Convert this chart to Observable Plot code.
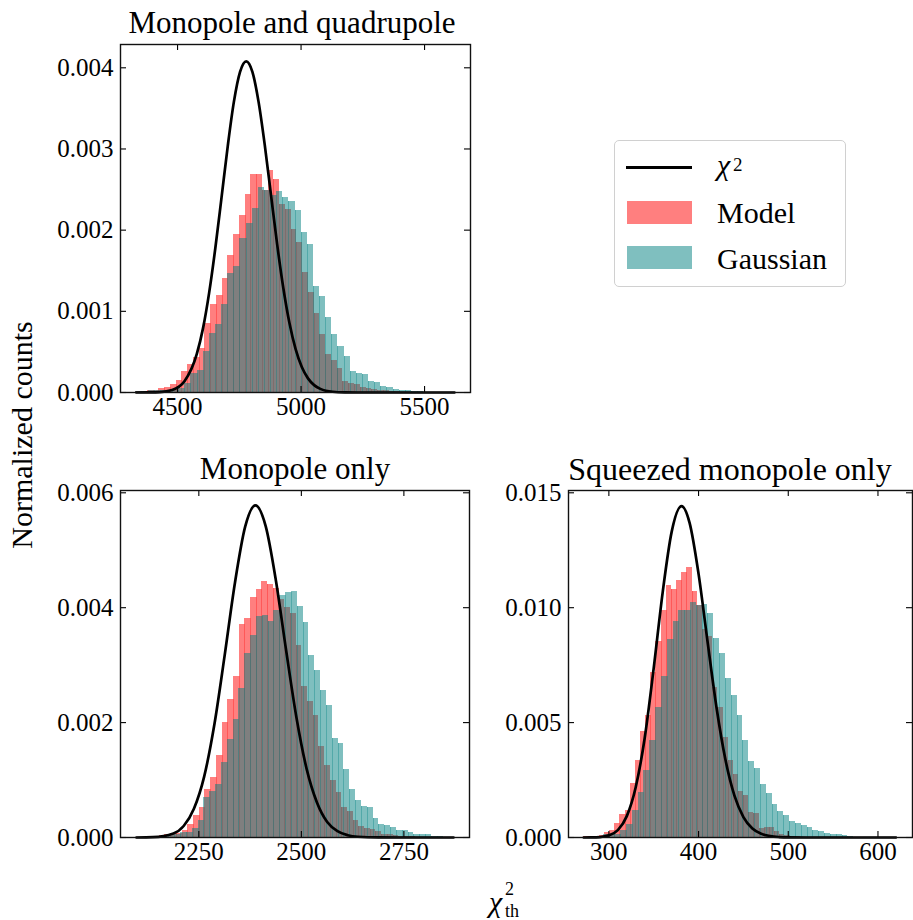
<!DOCTYPE html>
<html>
<head>
<meta charset="utf-8">
<script src="https://cdn.jsdelivr.net/npm/d3@7"></script>
<script src="https://cdn.jsdelivr.net/npm/@observablehq/plot@0.6"></script>
<style>
  body { margin: 0; background: #fff; }
  #fig { position: relative; width: 913px; height: 920px; overflow: hidden;
         font-family: "Liberation Serif", "Times New Roman", serif; color: #000; background: #fff; }
  .abs { position: absolute; white-space: nowrap; line-height: 1; }
  .pan { position: absolute; }
</style>
</head>
<body>
<div id="fig"></div>
<script>
// ---------- data (densities in units of 1e-3) ----------
const UNIT = 1e-3;

// Panel 1: Monopole and quadrupole
const mqModelStart = 4331, mqModelWidth = 23.3;
const mqModel = [0.01, 0.01, 0.02, 0.02, 0.045, 0.057, 0.094, 0.148, 0.259, 0.345,
  0.435, 0.54, 0.85, 1.09, 1.20, 1.41, 1.69, 1.95, 2.18, 2.44,
  2.68, 2.68, 2.49, 2.74, 2.63, 2.32, 2.26, 2.01, 1.85, 1.48,
  1.23, 0.97, 0.72, 0.47, 0.39, 0.29, 0.14, 0.11, 0.10, 0.06,
  0.05, 0.04, 0.02, 0.02, 0.01, 0.01];
const mqGaussStart = 4331, mqGaussWidth = 24.8;
const mqGauss = [0.01, 0.01, 0.02, 0.02, 0.02, 0.03, 0.03, 0.045, 0.115, 0.23,
  0.27, 0.50, 0.73, 0.84, 1.08, 1.47, 1.55, 1.90, 2.08, 2.27,
  2.53, 2.49, 2.43, 2.48, 2.40, 2.35, 2.24, 1.97, 1.82, 1.30,
  1.18, 0.92, 0.72, 0.57, 0.44, 0.26, 0.24, 0.22, 0.13, 0.12,
  0.08, 0.06, 0.04, 0.03, 0.03, 0.01, 0.01, 0.005, 0.003, 0.002, 0.002, 0.002];
const mqChi2X = [4333, 4378, 4428, 4478, 4528, 4578, 4603, 4628, 4653, 4678, 4703, 4728, 4753,
  4778, 4803, 4828, 4853, 4878, 4903, 4928, 4953, 4978, 5003, 5028, 5053, 5078, 5128, 5178, 5228, 5300, 5450, 5621];
const mqChi2Y = [0.0001, 0.0015, 0.005, 0.030, 0.138, 0.475, 0.79, 1.23, 1.78, 2.40, 3.03, 3.58, 3.95,
  4.08, 3.95, 3.58, 3.05, 2.44, 1.83, 1.29, 0.855, 0.533, 0.313, 0.174, 0.091, 0.045, 0.009, 0.0015, 0.0002, 0, 0, 0];

// Panel 2: Monopole only
const moModelStart = 2098, moModelWidth = 13.9;
const moModel = [0.005, 0.005, 0.01, 0.01, 0.03, 0.05, 0.07, 0.07, 0.12, 0.23,
  0.38, 0.52, 0.84, 1.05, 1.42, 2.00, 2.40, 2.80, 3.70, 3.82,
  4.17, 4.31, 4.46, 4.40, 4.33, 4.15, 4.01, 3.90, 3.34, 2.62,
  2.37, 2.12, 1.58, 1.25, 0.99, 0.78, 0.53, 0.45, 0.29, 0.20,
  0.15, 0.14, 0.10, 0.06, 0.06, 0.03, 0.02, 0.01, 0.01, 0.005];
const moGaussStart = 2106, moGaussWidth = 14.22;
const moGauss = [0.005, 0.005, 0.01, 0.01, 0.02, 0.03, 0.06, 0.09, 0.09, 0.15,
  0.29, 0.69, 0.80, 0.92, 1.30, 1.70, 2.05, 2.60, 3.20, 3.51,
  3.85, 3.86, 3.76, 3.95, 4.22, 4.26, 4.29, 4.02, 3.75, 3.16,
  2.90, 2.56, 2.29, 1.72, 1.64, 1.18, 0.84, 0.64, 0.54, 0.53,
  0.33, 0.22, 0.21, 0.17, 0.12, 0.12, 0.09, 0.06, 0.05, 0.05, 0.02, 0.02];
const moChi2X = [2098, 2138, 2188, 2213, 2238, 2263, 2288, 2313, 2338, 2363, 2388, 2413, 2438, 2463,
  2488, 2513, 2538, 2563, 2588, 2613, 2638, 2688, 2738, 2871];
const moChi2Y = [0.0003, 0.005, 0.070, 0.20, 0.50, 1.06, 1.97, 3.17, 4.43, 5.41, 5.78, 5.42, 4.47, 3.25,
  2.09, 1.19, 0.61, 0.27, 0.11, 0.040, 0.013, 0.001, 0, 0];

// Panel 3: Squeezed monopole only
const sqModelStart = 272, sqModelWidth = 5.75;
const sqModel = [0.03, 0.03, 0.06, 0.10, 0.22, 0.32, 0.61, 1.02, 1.19, 2.35,
  3.34, 4.62, 5.30, 7.19, 8.54, 9.88, 10.97, 10.78, 11.18, 11.51,
  11.76, 10.72, 10.09, 9.07, 8.74, 6.51, 5.66, 4.36, 3.37, 2.73,
  2.00, 1.82, 1.09, 1.06, 0.41, 0.42, 0.44, 0.26, 0.12, 0.07,
  0.05, 0.03, 0.02, 0.01];
const sqGaussStart = 274, sqGaussWidth = 6.5;
const sqGauss = [0.02, 0.03, 0.06, 0.12, 0.12, 0.15, 0.32, 0.58, 1.16, 1.96,
  2.90, 4.21, 5.66, 7.00, 8.61, 9.40, 9.88, 9.87, 10.24, 10.09,
  10.12, 9.76, 8.64, 7.99, 6.93, 6.20, 5.33, 4.21, 3.30, 3.01,
  2.29, 1.93, 1.45, 1.12, 0.94, 0.68, 0.61, 0.51, 0.44, 0.32,
  0.26, 0.17, 0.15, 0.12, 0.09, 0.05];
const sqChi2X = [272, 280, 290, 300, 310, 320, 330, 340, 350, 360, 370, 381, 390, 400, 410, 420,
  430, 440, 450, 460, 470, 480, 490, 500, 520, 620];
const sqChi2Y = [0.001, 0.004, 0.02, 0.094, 0.32, 0.93, 2.20, 4.34, 7.37, 10.67, 13.30, 14.42, 13.69, 11.47, 8.53, 5.66,
  3.38, 1.82, 0.89, 0.39, 0.16, 0.06, 0.02, 0.005, 0.0005, 0];

// ticks, labels
const mqXTicks = [4500, 5000, 5500];
const mqYTicks = [0, 0.001, 0.002, 0.003, 0.004];
const moXTicks = [2250, 2500, 2750];
const moYTicks = [0, 0.002, 0.004, 0.006];
const sqXTicks = [300, 400, 500, 600];
const sqYTicks = [0, 0.005, 0.010, 0.015];
const panelTitles = ["Monopole and quadrupole", "Monopole only", "Squeezed monopole only"];
const seriesNames = ["Model", "Gaussian"];
const yAxisLabel = "Normalized counts";

const SERIF = '"Liberation Serif", "Times New Roman", serif';

// ---------- helpers ----------
const bins = (start, width, vals) =>
  vals.map((v, i) => ({x1: start + i * width, x2: start + (i + 1) * width, y1: 0, y2: v * UNIT}));
const edges = (start, width, vals) => {
  const out = [];
  for (let i = 1; i < vals.length; i++)
    out.push({x: start + i * width, y1: 0, y2: Math.min(vals[i - 1], vals[i]) * UNIT});
  return out;
};
const curvePts = (xs, ys) => xs.map((x, i) => ({x, y: ys[i] * UNIT}));

function panel(cfg) {
  const {w, h, m, xDomain, yDomain, xTicks, yTicks, yFmt, model, gauss, chi} = cfg;
  const pw = w - m.left - m.right, ph = h - m.top - m.bottom;
  const tl = 6;
  const ty = tl / ph * (yDomain[1] - yDomain[0]);
  const tx = tl / pw * (xDomain[1] - xDomain[0]);
  return Plot.plot({
    width: w, height: h,
    marginLeft: m.left, marginRight: m.right, marginTop: m.top, marginBottom: m.bottom,
    x: {type: "linear", domain: xDomain},
    y: {type: "linear", domain: yDomain},
    style: {fontFamily: SERIF, fontSize: "25px", color: "#000", background: "transparent", overflow: "visible"},
    marks: [
      Plot.rect(bins(...model), {x1: "x1", x2: "x2", y1: "y1", y2: "y2", fill: "red", fillOpacity: 0.5,
        inset: 0, shapeRendering: "crispEdges"}),
      Plot.ruleX(edges(...model), {x: "x", y1: "y1", y2: "y2", stroke: "red", strokeOpacity: 0.3,
        strokeWidth: 1, shapeRendering: "crispEdges"}),
      Plot.rect(bins(...gauss), {x1: "x1", x2: "x2", y1: "y1", y2: "y2", fill: "teal", fillOpacity: 0.5,
        inset: 0, shapeRendering: "crispEdges"}),
      Plot.ruleX(edges(...gauss), {x: "x", y1: "y1", y2: "y2", stroke: "teal", strokeOpacity: 0.35,
        strokeWidth: 1, shapeRendering: "crispEdges"}),
      Plot.line(curvePts(...chi), {x: "x", y: "y", stroke: "black", strokeWidth: 2.7, curve: "monotone-x"}),
      Plot.ruleX(xTicks, {x: d => d, y1: () => yDomain[0], y2: () => yDomain[0] + ty, stroke: "#000", strokeWidth: 1.1}),
      Plot.ruleX(xTicks, {x: d => d, y1: () => yDomain[1] - ty, y2: () => yDomain[1], stroke: "#000", strokeWidth: 1.1}),
      Plot.ruleY(yTicks, {y: d => d, x1: () => xDomain[0], x2: () => xDomain[0] + tx, stroke: "#000", strokeWidth: 1.1}),
      Plot.ruleY(yTicks, {y: d => d, x1: () => xDomain[1] - tx, x2: () => xDomain[1], stroke: "#000", strokeWidth: 1.1}),
      Plot.frame({stroke: "#111", strokeWidth: 1.4}),
      Plot.axisX(xTicks, {tickSize: 0, tickPadding: 5, tickFormat: d => String(d), fontSize: 25,
        fontFamily: SERIF, fill: "#000", label: null}),
      Plot.axisY(yTicks, {tickSize: 0, tickPadding: 7, tickFormat: yFmt, fontSize: 25,
        fontFamily: SERIF, fill: "#000", label: null})
    ]
  });
}

const fig = document.getElementById("fig");
function place(node, left, top) {
  const d = document.createElement("div");
  d.className = "pan";
  d.style.left = left + "px";
  d.style.top = top + "px";
  d.appendChild(node);
  fig.appendChild(d);
}
function text(str, {left, top, size, width, align, italic, extra}) {
  const d = document.createElement("div");
  d.className = "abs";
  d.textContent = str;
  d.style.left = left + "px";
  d.style.top = top + "px";
  d.style.fontSize = size + "px";
  if (width != null) { d.style.width = width + "px"; d.style.textAlign = align || "center"; }
  if (italic) d.style.fontStyle = "italic";
  if (extra) Object.assign(d.style, extra);
  fig.appendChild(d);
  return d;
}
function box(left, top, width, height, style) {
  const d = document.createElement("div");
  d.style.position = "absolute";
  d.style.left = left + "px"; d.style.top = top + "px";
  d.style.width = width + "px"; d.style.height = height + "px";
  Object.assign(d.style, style || {});
  fig.appendChild(d);
  return d;
}

const f3 = d3.format(".3f");

// Panel 1
place(panel({
  w: 480, h: 430, m: {left: 120, right: 10, top: 44, bottom: 38},
  xDomain: [4269, 5686], yDomain: [0, 0.004287],
  xTicks: mqXTicks, yTicks: mqYTicks, yFmt: f3,
  model: [mqModelStart, mqModelWidth, mqModel],
  gauss: [mqGaussStart, mqGaussWidth, mqGauss],
  chi: [mqChi2X, mqChi2Y]
}), 0, 0);

// Panel 2
place(panel({
  w: 480, h: 400, m: {left: 120, right: 11, top: 10, bottom: 43},
  xDomain: [2059, 2910], yDomain: [0, 0.00604],
  xTicks: moXTicks, yTicks: moYTicks, yFmt: f3,
  model: [moModelStart, moModelWidth, moModel],
  gauss: [moGaussStart, moGaussWidth, moGauss],
  chi: [moChi2X, moChi2Y]
}), 0, 480);

// Panel 3
place(panel({
  w: 443, h: 400, m: {left: 98, right: 1, top: 10, bottom: 43},
  xDomain: [255, 638.5], yDomain: [0, 0.0151],
  xTicks: sqXTicks, yTicks: sqYTicks, yFmt: f3,
  model: [sqModelStart, sqModelWidth, sqModel],
  gauss: [sqGaussStart, sqGaussWidth, sqGauss],
  chi: [sqChi2X, sqChi2Y]
}), 470, 480);

// Titles (font 31px, baseline offset ~0.8375em)
text(panelTitles[0], {left: 292 - 250, top: 33.3 - 26, size: 31, width: 500});
text(panelTitles[1], {left: 295 - 250, top: 479.3 - 26, size: 31, width: 500});
text(panelTitles[2], {left: 730 - 250, top: 479.3 - 26, size: 32, width: 500});

// Y label (rotated)
text(yAxisLabel, {left: 22.4 - 150, top: 435 - 15, size: 30, width: 300,
  extra: {height: "30px", transform: "rotate(-90deg)", transformOrigin: "50% 50%"}});

// X label: chi^2_th  (sup/sub at 18px, line-height 14px -> baseline = top + 13.1)
text("χ", {left: 489, top: 912 - 25.1, size: 30, italic: true});
text("2", {left: 505, top: 895.5 - 13.1, size: 18, extra: {lineHeight: "14px", height: "14px"}});
text("th", {left: 505, top: 916.8 - 13.1, size: 18, extra: {lineHeight: "14px", height: "14px"}});

// Legend
box(613.5, 140, 232.5, 146.5, {border: "1px solid #d0d0d0", borderRadius: "5px", boxSizing: "border-box", background: "rgba(255,255,255,0.8)"});
box(626, 166, 66, 2.6, {background: "#000"});
box(627, 201, 65, 23, {background: "rgba(255,0,0,0.5)"});
box(627, 246, 65, 23, {background: "rgba(0,128,128,0.5)"});
text("χ", {left: 717, top: 175 - 25.1, size: 30, italic: true});
text("2", {left: 733, top: 171 - 13.1, size: 19, extra: {lineHeight: "14px", height: "14px"}});
text(seriesNames[0], {left: 717, top: 223.3 - 25.1, size: 30});
text(seriesNames[1], {left: 717, top: 268.7 - 25.1, size: 30});
</script>
</body>
</html>
